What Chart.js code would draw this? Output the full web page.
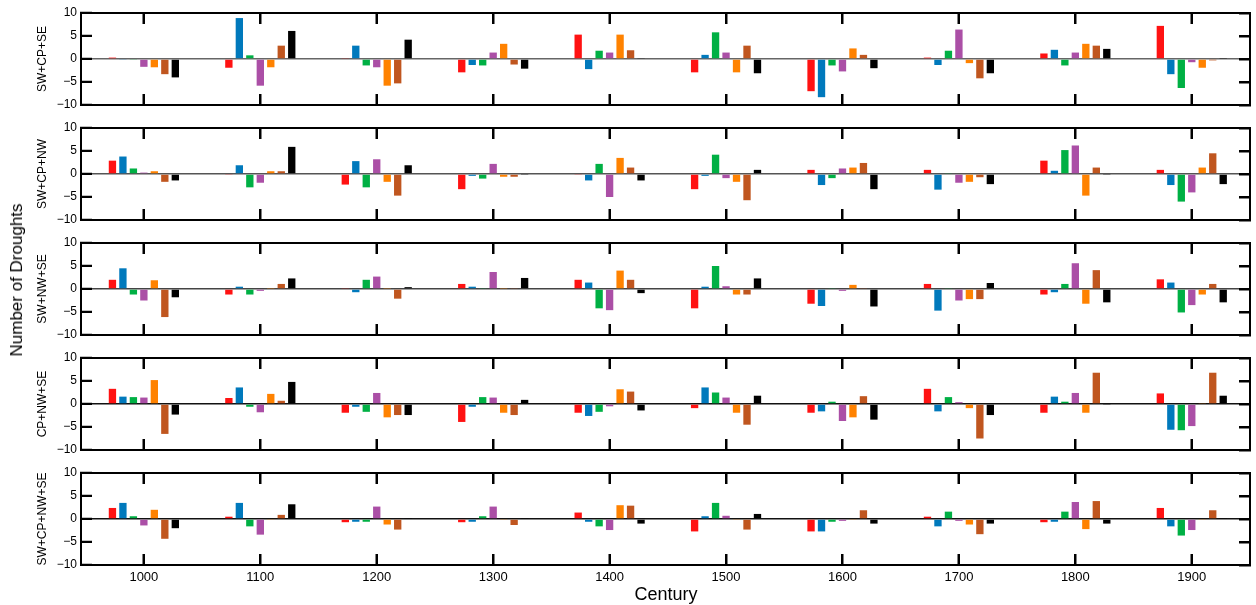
<!DOCTYPE html>
<html><head><meta charset="utf-8">
<script src="https://cdn.jsdelivr.net/npm/chart.js@4.4.0/dist/chart.umd.min.js"></script>
<style>
html,body{margin:0;padding:0;background:#fff;}
body{width:1256px;height:605px;position:relative;overflow:hidden;font-family:"Liberation Sans",Arial,sans-serif;color:#000;}
canvas{position:absolute;left:0;}
#ylab{position:absolute;left:17px;top:280px;transform:translate(-50%,-50%) rotate(-90deg);font-size:17px;white-space:nowrap;}
#xlab{position:absolute;left:666px;top:594px;transform:translate(-50%,-50%);font-size:18px;white-space:nowrap;}
</style></head><body>
<canvas id="c0" width="1256" height="108" style="top:5px"></canvas>
<canvas id="c1" width="1256" height="108" style="top:120px"></canvas>
<canvas id="c2" width="1256" height="108" style="top:235px"></canvas>
<canvas id="c3" width="1256" height="108" style="top:350px"></canvas>
<canvas id="c4" width="1256" height="125" style="top:465px"></canvas>
<div id="ylab">Number of Droughts</div>
<div id="xlab">Century</div>
<script>
// ---- data ----
const centuries = [1000, 1100, 1200, 1300, 1400, 1500, 1600, 1700, 1800, 1900];
const panelLabels = ['SW+CP+SE', 'SW+CP+NW', 'SW+NW+SE', 'CP+NW+SE', 'SW+CP+NW+SE'];
const seriesNames = ['Series 1', 'Series 2', 'Series 3', 'Series 4', 'Series 5', 'Series 6', 'Series 7'];
const yTicks = [-10, -5, 0, 5, 10];

// each panel: rows = series (red, blue, green, purple, orange, brown, black), cols = centuries
const SW_CP_SE = [
  [0.3, -1.9, 0.2, -2.9, 5.3, -2.9, -7.0, 0.3, 1.2, 7.2],
  [-0.2, 8.9, 2.9, -1.3, -2.2, 0.9, -8.3, -1.3, 2.0, -3.3],
  [-0.2, 0.8, -1.4, -1.4, 1.8, 5.8, -1.4, 1.8, -1.4, -6.3],
  [-1.7, -5.8, -1.8, 1.4, 1.4, 1.4, -2.7, 6.4, 1.4, -0.7],
  [-1.8, -1.8, -5.8, 3.3, 5.3, -2.9, 2.3, -0.9, 3.3, -1.9],
  [-3.3, 2.9, -5.3, -1.2, 1.9, 2.9, 0.9, -4.2, 2.9, -0.3],
  [-4.0, 6.1, 4.2, -2.1, 0.2, -3.1, -2.0, -3.1, 2.2, 0.1]
];
const SW_CP_NW = [
  [2.9, -0.2, -2.3, -3.3, -0.2, -3.3, 0.9, 0.9, 2.9, 0.9],
  [3.8, 1.9, 2.8, -0.4, -1.4, -0.4, -2.4, -3.4, 0.7, -2.4],
  [1.2, -2.9, -2.9, -1.0, 2.2, 4.2, -0.9, 0.2, 5.2, -6.0],
  [0.3, -1.9, 3.2, 2.2, -5.0, -0.9, 1.2, -1.9, 6.2, -4.0],
  [0.6, 0.6, -1.7, -0.6, 3.5, -1.7, 1.4, -1.7, -4.7, 1.4],
  [-1.7, 0.6, -4.7, -0.6, 1.4, -5.7, 2.4, -0.7, 1.4, 4.5],
  [-1.4, 5.9, 1.9, -0.1, -1.4, 0.9, -3.3, -2.2, -0.1, -2.2]
];
const SW_NW_SE = [
  [2.0, -1.2, 0.2, 1.1, 2.0, -4.2, -3.2, 1.1, -1.2, 2.1],
  [4.5, 0.5, -0.7, 0.5, 1.4, 0.5, -3.7, -4.7, -0.7, 1.4],
  [-1.2, -1.2, 2.0, 0.2, -4.2, 5.0, 0.2, 0.2, 1.1, -5.1],
  [-2.5, -0.4, 2.7, 3.7, -4.6, 0.6, -0.4, -2.5, 5.6, -3.5],
  [1.9, 0.1, 0.1, 0.1, 4.0, -1.2, 0.9, -2.2, -3.2, -1.2],
  [-6.1, 1.1, -2.1, 0.2, 2.0, -1.2, 0.2, -2.2, 4.1, 1.1],
  [-1.8, 2.3, 0.4, 2.4, -0.9, 2.3, -3.8, 1.3, -2.9, -2.9]
];
const CP_NW_SE = [
  [3.3, 1.3, -1.9, -3.9, -1.9, -0.9, -1.9, 3.3, -1.9, 2.3],
  [1.6, 3.6, -0.6, -0.6, -2.6, 3.6, -1.6, -1.6, 1.6, -5.6],
  [1.5, -0.6, -1.7, 1.5, -1.7, 2.5, 0.5, 1.5, 0.5, -5.7],
  [1.4, -1.8, 2.4, 1.4, -0.5, 1.4, -3.7, 0.4, 2.4, -4.8],
  [5.2, 2.2, -2.9, -1.9, 3.2, -1.9, -2.9, -0.9, -1.9, 0.2],
  [-6.5, 0.7, -2.4, -2.4, 2.7, -4.5, 1.7, -7.5, 6.8, 6.8],
  [-2.3, 4.8, -2.4, 0.9, -1.4, 1.8, -3.4, -2.4, -0.1, 1.8]
];
const SW_CP_NW_SE = [
  [2.4, 0.5, -0.7, -0.7, 1.4, -2.7, -2.7, 0.5, -0.7, 2.4],
  [3.5, 3.5, -0.6, -0.6, -0.6, 0.6, -2.7, -1.6, -0.6, -1.6],
  [0.6, -1.6, -0.6, 0.6, -1.6, 3.5, -0.6, 1.6, 1.6, -3.6],
  [-1.4, -3.4, 2.7, 2.7, -2.4, 0.7, -0.4, -0.4, 3.7, -2.4],
  [2.0, -0.2, -1.2, -0.2, 3.0, -0.2, -0.2, -1.2, -2.2, -0.2],
  [-4.3, 0.9, -2.3, -1.3, 2.9, -2.3, 1.9, -3.3, 3.9, 1.9],
  [-2.0, 3.2, 0.1, 0.1, -1.0, 1.1, -1.0, -1.0, -1.0, 0.1]
];
const panels = [SW_CP_SE, SW_CP_NW, SW_NW_SE, CP_NW_SE, SW_CP_NW_SE];

// ---- styles ----
const colors = ['#ff1212', '#0079bc', '#00b044', '#ab4fa6', '#ff8200', '#c0561f', '#000000'];
const zeroColors = ['#666', '#555', '#444', '#111', '#111'];
const X_MIN = 946, X_MAX = 1950;
const TICK_LEN = 11;

Chart.defaults.font.family = "'Liberation Sans', Arial, sans-serif";
Chart.defaults.color = '#000';

function setTicks(vals) { return s => { s.ticks = vals.map(v => ({ value: v })); }; }
const fmt = v => (v < 0 ? '\u2212' + Math.abs(v) : '' + v);
const noPad = s => { s.paddingTop = 0; s.paddingBottom = 0; s.paddingLeft = 0; s.paddingRight = 0; };

// inward tick marks on all four sides, placed through the chart's own scales
function drawInwardTicks(chart) {
  const ctx = chart.ctx;
  const a = chart.chartArea;
  const xs = chart.scales.x, ys = chart.scales.y;
  ctx.save();
  ctx.fillStyle = '#000';
  centuries.forEach(v => {
    const px = Math.round(xs.getPixelForValue(v));
    ctx.fillRect(px - 1, a.bottom - TICK_LEN, 2, TICK_LEN);
    ctx.fillRect(px - 1, a.top, 2, TICK_LEN);
  });
  yTicks.forEach(v => {
    const py = Math.round(ys.getPixelForValue(v));
    ctx.fillRect(a.left, py - 1, TICK_LEN, 2);
    ctx.fillRect(a.right - TICK_LEN, py - 1, TICK_LEN, 2);
  });
  ctx.restore();
}
const inwardTicks = { id: 'inwardTicks', afterDraw: drawInwardTicks };

const charts = [];
panels.forEach((rows, p) => {
  const isLast = p === panels.length - 1;
  const border = { display: true, color: '#000', width: 2 };
  // native inward tick marks as well (negative tick length)
  const xGrid = { drawOnChartArea: false, drawTicks: true, tickLength: -TICK_LEN, tickColor: '#000', tickWidth: 2, offset: false };
  const yGrid2 = { drawOnChartArea: false, drawTicks: true, tickLength: -TICK_LEN, tickColor: '#000', tickWidth: 2 };
  charts.push(new Chart(document.getElementById('c' + p), {
    type: 'bar',
    plugins: [inwardTicks],
    data: {
      datasets: rows.map((vals, s) => ({
        label: seriesNames[s],
        data: centuries.map((c, i) => ({ x: c, y: vals[i] })),
        backgroundColor: colors[s],
        borderWidth: 0,
        categoryPercentage: 0.63,
        barPercentage: 0.7
      }))
    },
    options: {
      animation: false, responsive: false, maintainAspectRatio: false, devicePixelRatio: 1,
      layout: { padding: { top: 8, bottom: isLast ? 0 : 8, left: 0, right: 6 } },
      plugins: { legend: { display: false }, tooltip: { enabled: false } },
      scales: {
        x: {
          type: 'linear', position: 'bottom', min: X_MIN, max: X_MAX, offset: false,
          afterBuildTicks: setTicks(centuries),
          grid: xGrid, border: border,
          ticks: { display: isLast, padding: 5 + TICK_LEN, font: { size: 13 }, color: '#000', maxRotation: 0, autoSkip: false, callback: v => String(v) },
          afterFit: s => { s.height = isLast ? 25 : 0; noPad(s); }
        },
        x2: {
          type: 'linear', position: 'top', min: X_MIN, max: X_MAX, offset: false,
          afterBuildTicks: setTicks(centuries),
          grid: xGrid, border: border,
          ticks: { display: false },
          afterFit: s => { s.height = 0; noPad(s); }
        },
        y: {
          type: 'linear', position: 'left', min: -10, max: 10,
          afterBuildTicks: setTicks(yTicks),
          grid: {
            drawOnChartArea: true, drawTicks: true,
            color: ctx => (ctx.tick && ctx.tick.value === 0 ? zeroColors[p] : 'rgba(0,0,0,0)'),
            lineWidth: 1.5,
            tickLength: -TICK_LEN, tickColor: '#000', tickWidth: 2
          },
          border: border,
          ticks: { padding: 4 + TICK_LEN, font: { size: 12 }, color: '#000', callback: fmt },
          title: { display: true, text: panelLabels[p], font: { size: 12 }, color: '#000', padding: { top: 35, bottom: 0 } },
          afterFit: s => { s.width = 81; noPad(s); }
        },
        y2: {
          type: 'linear', position: 'right', min: -10, max: 10,
          afterBuildTicks: setTicks(yTicks),
          grid: yGrid2, border: border,
          ticks: { display: false },
          afterFit: s => { s.width = 0; noPad(s); }
        }
      }
    }
  }));
});
charts.forEach(c => drawInwardTicks(c));
</script>
</body></html>
